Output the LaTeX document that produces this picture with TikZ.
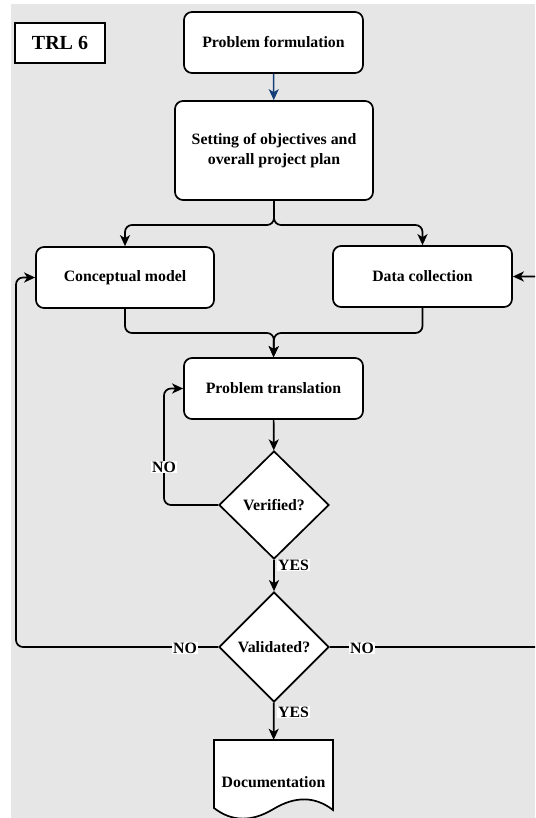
\documentclass[tikz,border=0pt]{standalone}
\usepackage{fontspec}
\setmainfont{Liberation Serif}
\usetikzlibrary{arrows.meta,shapes.geometric}
\definecolor{bggray}{RGB}{230,230,230}
\definecolor{flowblue}{RGB}{20,62,120}
\newcommand{\flowfont}{\bfseries\fontsize{15.8}{20}\selectfont}

\begin{document}
\begin{tikzpicture}[x=1pt, y=-1pt,
        box/.style={draw, line width=1.7pt, fill=white, rounded corners=8pt,
            align=center, inner sep=0pt, font=\flowfont},
        decision/.style={draw, diamond, line width=1.7pt, fill=white, inner sep=0pt,
            minimum width=110pt, minimum height=108pt, font=\flowfont},
        flow/.style={-{Stealth[length=11pt, width=10pt, inset=3pt]}, line width=1.7pt, rounded corners=7pt},
        answer/.style={fill=white, inner sep=1pt, font=\flowfont}]
    \useasboundingbox (0,0) rectangle (535,818);
    \clip (0,0) rectangle (535,818);
    \fill[bggray] (11,4) rectangle (535,818);

    \node[draw, line width=1.7pt, fill=white, minimum width=90pt, minimum height=40pt,
        font=\bfseries\fontsize{20}{24}\selectfont] (trl) at (60,43) {TRL 6};

    \node[box, minimum width=179pt, minimum height=61pt] (formulation) at (273.5,42.5) {Problem formulation};
    \node[box, minimum width=198pt, minimum height=99pt] (objectives) at (274,150.5)
        {Setting of objectives and\\overall project plan};
    \node[box, minimum width=178pt, minimum height=61pt] (conceptual) at (125,277.5) {Conceptual model};
    \node[box, minimum width=179pt, minimum height=61pt] (datacoll) at (422.5,276.5) {Data collection};
    \node[box, minimum width=179pt, minimum height=61pt] (translation) at (273.5,388.5) {Problem translation};
    \node[decision] (verified) at (274,505) {Verified?};
    \node[decision, minimum height=110pt] (validated) at (274,647) {Validated?};

    % document shape with wavy bottom
    \draw[line width=1.7pt, fill=white] (214,740) -- (333,740) -- (333,810)
        .. controls (315,796) and (295,796) .. (273.5,809)
        .. controls (252,822) and (232,822) .. (214,808) -- cycle;
    \node[minimum width=119pt, minimum height=84pt, inner sep=0pt, font=\flowfont] (doc) at (273.5,782) {Documentation};

    \coordinate (split) at (274,225);
    \coordinate (merge) at (274,333);
    \coordinate (verloop) at (164,388.5);
    \coordinate (valleft) at (16,277.5);
    \coordinate (valright) at (550,276.5);

    \draw[-{Stealth[length=11pt, width=10pt, inset=3pt]}, flowblue, line width=1.5pt] (formulation) -- (objectives);
    \draw[flow] (objectives.south) -- (split) -| (conceptual.north);
    \draw[flow] (objectives.south) -- (split) -| (datacoll.north);
    \draw[flow] (conceptual.south) |- (merge) -- (translation.north);
    \draw[flow] (datacoll.south) |- (merge) -- (translation.north);
    \draw[flow] (translation) -- (verified);
    \draw[flow] (verified.west) -| (verloop) -- (translation.west);
    \draw[flow] (verified) -- (validated);
    \draw[flow] (validated.west) -| (valleft) -- (conceptual.west);
    \draw[flow] (validated.east) -| (valright) -- (datacoll.east);
    \draw[flow] (validated) -- (doc);

    \node[answer] (noverified) at (164,467) {NO};
    \node[answer, anchor=west] (yesverified) at (277,565) {YES};
    \node[answer] (novalleft) at (185,648) {NO};
    \node[answer] (novalright) at (362,648) {NO};
    \node[answer, anchor=west] (yesvalidated) at (277,712) {YES};
\end{tikzpicture}
\end{document}
